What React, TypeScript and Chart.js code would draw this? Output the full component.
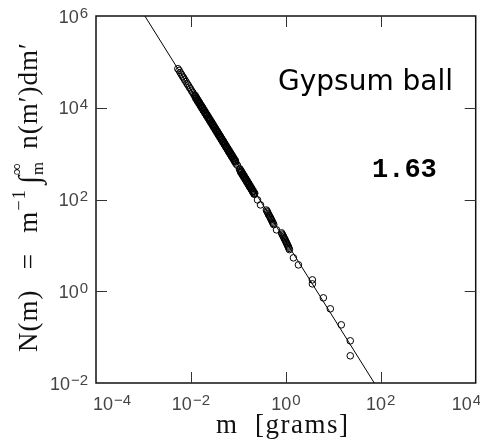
import React, { useEffect, useRef } from "react";
import { Chart, registerables } from "chart.js";

Chart.register(...registerables);

// Data, stored as decades (log10 of mass in grams, log10 of N(m))
const logMass = [
  -2.276, -2.25, -2.226, -2.2, -2.178, -2.152, -2.131, -2.104, -2.08, -2.058, -2.034, -2.01, -1.985, -1.962, -1.94,
  -1.92, -1.905, -1.889, -1.872, -1.858, -1.841, -1.826, -1.81, -1.793, -1.779,
  -1.762, -1.748, -1.731, -1.716, -1.7, -1.684, -1.669, -1.652, -1.637, -1.621,
  -1.606, -1.59, -1.573, -1.559, -1.543, -1.527, -1.512, -1.495, -1.481, -1.464,
  -1.449, -1.433, -1.418, -1.401, -1.386, -1.37, -1.355, -1.339, -1.322, -1.308,
  -1.292, -1.276, -1.261, -1.245, -1.229, -1.214, -1.198, -1.183, -1.167, -1.151,
  -1.136, -1.12, -1.104, -1.089, -1.073, -1.058,
  -1.02,
  -0.975, -0.96, -0.944, -0.929, -0.913, -0.897, -0.882, -0.866, -0.851, -0.835,
  -0.819, -0.804, -0.788, -0.773, -0.757, -0.741, -0.726, -0.71, -0.695, -0.679, -0.664,
  -0.597, -0.534,
  -0.41, -0.385, -0.36, -0.33, -0.305, -0.28, -0.255,
  -0.197,
  -0.09, -0.065, -0.04, -0.015, 0.01, 0.035, 0.055, 0.075,
  0.16, 0.265, 0.559, 0.559, 0.79, 0.937, 1.168, 1.357, 1.357,
];
const logN = [
  4.851, 4.815, 4.766, 4.728, 4.686, 4.65, 4.608, 4.569, 4.522, 4.493, 4.447, 4.414, 4.366, 4.334, 4.292,
  4.258, 4.24, 4.205, 4.185, 4.152, 4.134, 4.1, 4.082, 4.044, 4.03,
  3.993, 3.978, 3.941, 3.926, 3.889, 3.872, 3.838, 3.82, 3.785, 3.768,
  3.733, 3.716, 3.679, 3.664, 3.627, 3.61, 3.575, 3.556, 3.522, 3.503,
  3.47, 3.45, 3.418, 3.398, 3.365, 3.344, 3.312, 3.292, 3.258, 3.24,
  3.206, 3.186, 3.154, 3.134, 3.101, 3.08, 3.049, 3.028, 2.996, 2.975,
  2.944, 2.922, 2.892, 2.868, 2.84, 2.816,
  2.745,
  2.655, 2.632, 2.602, 2.58, 2.551, 2.527, 2.498, 2.475, 2.445, 2.422,
  2.391, 2.368, 2.338, 2.315, 2.284, 2.262, 2.232, 2.208, 2.178, 2.155, 2.124,
  1.991, 1.882,
  1.77, 1.722, 1.664, 1.612, 1.56, 1.505, 1.452,
  1.338,
  1.272, 1.22, 1.168, 1.118, 1.062, 1.01, 0.962, 0.908,
  0.728, 0.575, 0.248, 0.161, -0.144, -0.383, -0.732, -1.081, -1.407,
];
// Additional points inside the solid black (overlapping) parts of the band
const logMassDense = [
  -1.912, -1.897, -1.881, -1.864, -1.85, -1.833, -1.818, -1.802, -1.785, -1.771,
  -1.754, -1.74, -1.723, -1.708, -1.692, -1.676, -1.661, -1.644, -1.629, -1.613,
  -1.598, -1.582, -1.565, -1.551, -1.535, -1.519, -1.504, -1.487, -1.473, -1.456,
  -1.441, -1.425, -1.41, -1.393, -1.378, -1.362, -1.347, -1.331, -1.314, -1.3,
  -1.284, -1.268, -1.253, -1.237, -1.221, -1.206, -1.19, -1.175, -1.159, -1.143,
  -1.128, -1.112, -1.096, -1.081, -1.065, -1.05,
  -0.967, -0.952, -0.936, -0.921, -0.905, -0.889, -0.874, -0.858, -0.843, -0.827,
  -0.811, -0.796, -0.78, -0.765, -0.749, -0.733, -0.718, -0.702, -0.687, -0.671, -0.656,
  -0.397, -0.372, -0.345, -0.318, -0.292, -0.268,
  -0.078, -0.052, -0.028, -0.002, 0.022, 0.045, 0.065,
];
const logNDense = [
  4.27, 4.202, 4.217, 4.147, 4.164, 4.096, 4.112, 4.044, 4.056, 3.992,
  4.005, 3.94, 3.953, 3.888, 3.901, 3.834, 3.85, 3.782, 3.797, 3.73,
  3.745, 3.678, 3.691, 3.626, 3.639, 3.572, 3.587, 3.518, 3.534, 3.465,
  3.482, 3.412, 3.43, 3.36, 3.377, 3.306, 3.324, 3.254, 3.27, 3.202,
  3.218, 3.148, 3.166, 3.096, 3.113, 3.042, 3.061, 2.99, 3.008, 2.937,
  2.956, 2.884, 2.904, 2.83, 2.852, 2.778,
  2.667, 2.594, 2.614, 2.542, 2.563, 2.489, 2.51, 2.437, 2.457, 2.384,
  2.403, 2.33, 2.35, 2.277, 2.296, 2.224, 2.244, 2.17, 2.19, 2.117, 2.136,
  1.745, 1.69, 1.64, 1.585, 1.532, 1.478,
  1.245, 1.195, 1.142, 1.09, 1.036, 0.985, 0.935,
];

// Power-law fit line end points (grams, N)
const fitMass = [0.00107, 73];
const fitN = [1e6, 0.01];

const xTickExps = [-4, -2, 0, 2, 4];
const yTickExps = [-2, 0, 2, 4, 6];
const xTitle = "m  [grams]";
const materialLabel = "Gypsum ball";
const slopeLabel = "1.63";

const TICK_FONT = "Liberation Sans";
const SERIF = "Liberation Serif";

function expText(e: number) {
  return e < 0 ? "\u2212" + Math.abs(e) : String(e);
}

function powWidth(ctx: CanvasRenderingContext2D, e: number) {
  ctx.font = `18px "${TICK_FONT}"`;
  const w1 = ctx.measureText("10").width;
  ctx.font = `15px "${TICK_FONT}"`;
  const w2 = ctx.measureText(expText(e)).width;
  return w1 + 1 + w2;
}

function drawPow(ctx: CanvasRenderingContext2D, e: number, left: number, baseline: number) {
  ctx.textAlign = "left";
  ctx.textBaseline = "alphabetic";
  ctx.font = `18px "${TICK_FONT}"`;
  ctx.fillText("10", left, baseline);
  const w1 = ctx.measureText("10").width;
  ctx.font = `15px "${TICK_FONT}"`;
  ctx.fillText(expText(e), left + w1 + 1, baseline - 5);
}

export default function App() {
  const ref = useRef<HTMLCanvasElement>(null);

  useEffect(() => {
    document.body.style.margin = "0";
    const canvas = ref.current;
    if (!canvas) return;

    const points = logMass
      .map((e, i) => ({ x: Math.pow(10, e), y: Math.pow(10, logN[i]) }))
      .concat(logMassDense.map((e, i) => ({ x: Math.pow(10, e), y: Math.pow(10, logNDense[i]) })));
    const fit = fitMass.map((m, i) => ({ x: m, y: fitN[i] }));

    const decor = {
      id: "decor",
      afterDraw(chart: any) {
        const ctx: CanvasRenderingContext2D = chart.ctx;
        const { left, right, top, bottom } = chart.chartArea;
        const xs = chart.scales.x;
        const ys = chart.scales.y;
        ctx.save();

        // frame
        ctx.strokeStyle = "#111";
        ctx.lineWidth = 1.5;
        ctx.strokeRect(left, top, right - left, bottom - top);

        // inward ticks
        ctx.strokeStyle = "#333";
        ctx.lineWidth = 1;
        ctx.beginPath();
        xTickExps.forEach((e) => {
          if (e === -4 || e === 4) return;
          const px = Math.round(xs.getPixelForValue(Math.pow(10, e))) + 0.5;
          ctx.moveTo(px, bottom);
          ctx.lineTo(px, bottom - 11);
          ctx.moveTo(px, top);
          ctx.lineTo(px, top + 11);
        });
        yTickExps.forEach((e) => {
          if (e === -2 || e === 6) return;
          const py = Math.round(ys.getPixelForValue(Math.pow(10, e))) + 0.5;
          ctx.moveTo(left, py);
          ctx.lineTo(left + 11, py);
          ctx.moveTo(right, py);
          ctx.lineTo(right - 11, py);
        });
        ctx.stroke();

        // tick labels
        ctx.fillStyle = "#444";
        xTickExps.forEach((e, i) => {
          const px = xs.getPixelForValue(Math.pow(10, e));
          const w = powWidth(ctx, e);
          let l = px - w / 2;
          if (i === 0) l = Math.max(l, left - 3);
          if (i === xTickExps.length - 1) l = Math.min(l, right - 24);
          drawPow(ctx, e, l, bottom + 27);
        });
        yTickExps.forEach((e) => {
          const py = ys.getPixelForValue(Math.pow(10, e));
          const w = powWidth(ctx, e);
          drawPow(ctx, e, left - 8 - w, py + 6.5);
        });

        // x title
        ctx.fillStyle = "#111";
        (ctx as any).letterSpacing = "1.5px";
        ctx.font = `27px "${SERIF}"`;
        ctx.textAlign = "center";
        ctx.textBaseline = "alphabetic";
        ctx.fillText(xTitle, (left + right) / 2 - 3, bottom + 50);

        // y title (rotated)
        (ctx as any).letterSpacing = "1px";
        const size = 27;
        const pieces: any[] = [
          { t: "N(m)", s: 1, dy: 0 },
          { gap: 1 },
          { t: "=", s: 1, dy: 0 },
          { gap: 1 },
          { t: "m", s: 1, dy: 0 },
          { t: "\u22121", s: 0.68, dy: -0.45 },
          { gap: 0.25 },
          { t: "\u222B", s: 1.1, dy: 0.08 },
          { stack: ["\u221E", "m"], s: 0.62 },
          { gap: 0.6 },
          { t: "n(m\u2032)dm\u2032", s: 1, dy: 0 },
        ];
        let textW = 0;
        let gapW = 0;
        pieces.forEach((p) => {
          if (p.gap !== undefined) {
            gapW += p.gap;
            return;
          }
          ctx.font = `${p.s * size}px "${SERIF}"`;
          p.w = p.stack
            ? Math.max(...p.stack.map((s: string) => ctx.measureText(s).width))
            : ctx.measureText(p.t).width;
          textW += p.w;
        });
        const extra = Math.max(0, 310 - textW);
        pieces.forEach((p) => {
          if (p.gap !== undefined) p.w = (extra * p.gap) / gapW;
        });
        ctx.translate(37, 352);
        ctx.rotate(-Math.PI / 2);
        ctx.textAlign = "left";
        let cx = 0;
        pieces.forEach((p) => {
          if (p.gap === undefined) {
            ctx.font = `${p.s * size}px "${SERIF}"`;
            if (p.stack) {
              ctx.fillText(p.stack[0], cx, -0.55 * size);
              ctx.fillText(p.stack[1], cx, 0.22 * size);
            } else {
              ctx.fillText(p.t, cx, p.dy * size);
            }
          }
          cx += p.w;
        });
        (ctx as any).letterSpacing = "0px";
        ctx.restore();

        // annotations
        ctx.save();
        ctx.fillStyle = "#000";
        ctx.textAlign = "left";
        ctx.textBaseline = "alphabetic";
        ctx.font = `28px "DejaVu Sans"`;
        ctx.fillText(materialLabel, 278, 90);
        ctx.font = `bold 27px "Liberation Mono"`;
        ctx.fillText(slopeLabel, 372, 177);
        ctx.restore();
      },
    };

    const chart = new Chart(canvas, {
      type: "scatter",
      data: {
        datasets: [
          {
            data: fit,
            showLine: true,
            borderColor: "#000",
            borderWidth: 1,
            pointRadius: 0,
            fill: false,
          },
          {
            data: points,
            pointStyle: "circle",
            pointRadius: 3.3,
            pointHoverRadius: 3.3,
            borderColor: "#000",
            borderWidth: 1,
            backgroundColor: "rgba(0,0,0,0)",
          },
        ],
      },
      options: {
        animation: false,
        responsive: false,
        devicePixelRatio: 1,
        events: [],
        layout: { padding: { left: 96, top: 16, right: 3, bottom: 63 } },
        plugins: { legend: { display: false }, tooltip: { enabled: false } },
        scales: {
          x: { type: "logarithmic", min: 1e-4, max: 1e4, display: false },
          y: { type: "logarithmic", min: 1e-2, max: 1e6, display: false },
        },
      },
      plugins: [decor],
    } as any);

    return () => chart.destroy();
  }, []);

  return (
    <div style={{ position: "absolute", left: 0, top: 0, width: 480, height: 446, background: "#fff" }}>
      <canvas ref={ref} width={480} height={446} style={{ display: "block" }} />
    </div>
  );
}
